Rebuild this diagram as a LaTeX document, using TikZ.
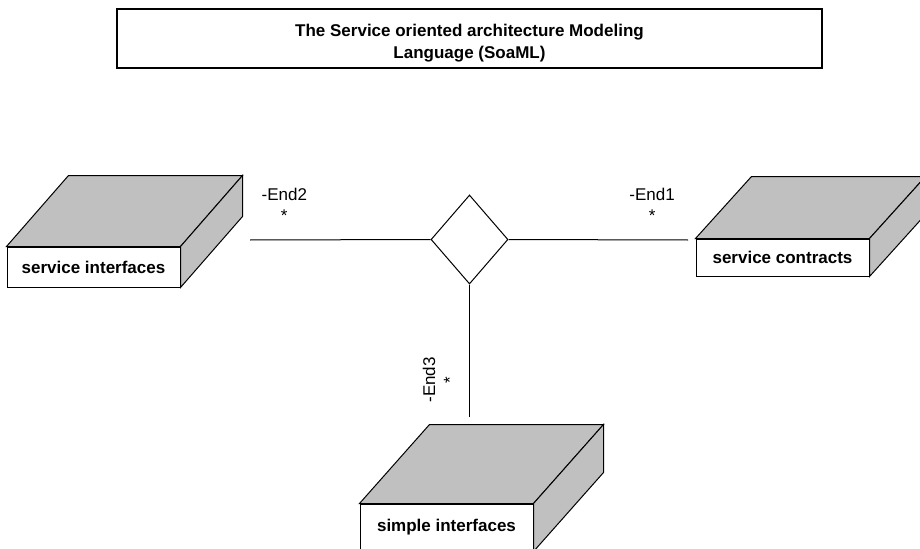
\documentclass[tikz,border=0pt]{standalone}
\usepackage{fontspec}
\setmainfont{Liberation Sans}
\usetikzlibrary{shapes.geometric}
\definecolor{boxgray}{HTML}{C0C0C0}
\tikzset{
  title_n/.style = {draw=black, line width=1pt, inner sep=0pt,
    minimum width=528.75pt, minimum height=44.25pt},
  title_txt/.style = {align=center, inner sep=0pt,
    font=\fontsize{12.75}{17}\selectfont\bfseries},
  block_n/.style = {draw=black, fill=white, inner sep=0pt, text centered,
    minimum width=129.75pt, font=\fontsize{12.75}{15}\selectfont\bfseries},
  side_n/.style = {draw=black, fill=boxgray},
  assoc_n/.style = {diamond, draw=black, fill=white, inner sep=0pt,
    minimum width=57.75pt, minimum height=66.75pt},
  end_n/.style = {align=center, inner sep=1pt,
    font=\fontsize{12.75}{15.5}\selectfont}}

\begin{document}
\begin{tikzpicture}[x=0.75pt, y=0.75pt, line width=0.75pt]
 \clip (0,0) rectangle (920,-549);

\node [title_n] (title) at (469.5,-38.5) {};
\node [title_txt] (title_text) at (469.5,-43)
  {The Service oriented architecture Modeling\\Language (SoaML)};

% the three blocks, front faces first
\node [block_n, minimum height=30pt] (svc_if) at (93.5,-267) {service interfaces};
\node [block_n, minimum height=27.75pt] (svc_ct) at (782.5,-257.5) {service contracts};
\node [block_n, minimum height=35.25pt] (simple_if) at (446.5,-527.5) {simple interfaces};
\foreach \n/\dx/\dy in {svc_if/62/71, svc_ct/56/62, simple_if/70/79}{
  \draw [side_n] (\n.north west) -- ++(\dx,\dy)
    -- ([shift={(\dx,\dy)}]\n.north east) -- (\n.north east) -- cycle;
  \draw [side_n] (\n.north east) -- ([shift={(\dx,\dy)}]\n.north east)
    -- ([shift={(\dx,\dy)}]\n.south east) -- (\n.south east) -- cycle;
}

% association
\node [assoc_n] (assoc) at (469.5,-239.5) {};
\coordinate (end2) at (250,-240);
\coordinate (end1) at (688,-240);
\coordinate (end3) at (469.5,-417);
\draw (end2) -- node [end_n, pos=0.19, above=12.5pt] {-End2\\*} (assoc.west);
\draw (assoc.east) -- node [end_n, pos=0.8, above=12.5pt] {-End1\\*} (end1);
\draw (end3) -- node [end_n, pos=0.28, sloped, above=9pt] {-End3\\*} (assoc.south);
\end{tikzpicture}
\end{document}
